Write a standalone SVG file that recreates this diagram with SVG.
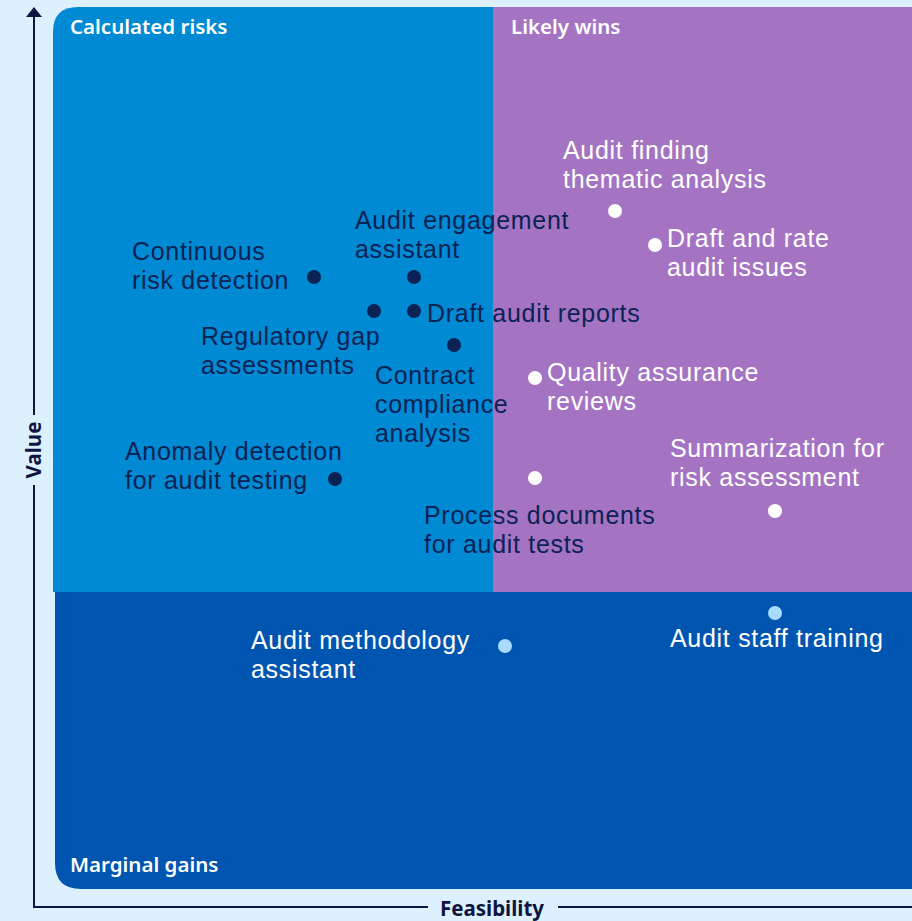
<svg xmlns="http://www.w3.org/2000/svg" width="912" height="921" viewBox="0 0 912 921">
<defs>
<style>
.bg{fill:#DCF0FD}
.ax{stroke:#0F1540;stroke-width:2;fill:none}
.axl{font-family:"Noto Sans","Liberation Sans",sans-serif;font-weight:700;font-size:20.5px;fill:#0F1540}
.qt{font-family:"Noto Sans","Liberation Sans",sans-serif;font-weight:600;font-size:20.5px;fill:#FFFFFF}
.lb{font-family:"Liberation Sans",Arial,sans-serif;font-size:25px;letter-spacing:0.7px}
.dk{fill:#0B2254}
.wt{fill:#FFFFFF}
.lt{fill:#A8DBFF}
</style>
<marker id="arr" viewBox="0 0 10 16" refX="1" refY="8" markerWidth="10" markerHeight="16" markerUnits="userSpaceOnUse" orient="auto">
<path d="M0,0 L10,8 L0,16 Z" fill="#0F1540"/>
</marker>
</defs>
<rect class="bg" x="0" y="0" width="912" height="921"/>
<g id="quadrants">
<g id="q-calculated-risks">
<path d="M53,592 V32 Q53,7 78,7 H493 V592 Z" fill="#008AD3"/>
<text class="qt" x="70" y="34">Calculated risks</text>
</g>
<g id="q-likely-wins">
<rect x="493" y="7" width="419" height="585" fill="#A474C3"/>
<text class="qt" x="511" y="34">Likely wins</text>
</g>
<g id="q-marginal-gains">
<path d="M55,592 H912 V889 H81 Q55,889 55,863 Z" fill="#0055B0"/>
<text class="qt" x="70" y="872">Marginal gains</text>
</g>
</g>
<g id="axes">
<path class="ax" d="M34,415 V16" marker-end="url(#arr)"/>
<path class="ax" d="M34,485 V907 H428"/>
<path class="ax" d="M558,907 H912"/>
<text class="axl" x="0" y="0" text-anchor="middle" transform="translate(41,450) rotate(-90)">Value</text>
<text class="axl" x="492" y="916" text-anchor="middle">Feasibility</text>
</g>
<g id="connectors"></g>
<g id="n-audit-finding">
<circle class="wt" cx="615" cy="211" r="7"/>
<text class="lb wt" x="563" y="159">Audit finding</text>
<text class="lb wt" x="563" y="188">thematic analysis</text>
</g>
<g id="n-draft-rate">
<circle class="wt" cx="655" cy="245" r="7"/>
<text class="lb wt" x="667" y="247">Draft and rate</text>
<text class="lb wt" x="667" y="276">audit issues</text>
</g>
<g id="n-engagement">
<circle class="dk" cx="414" cy="277" r="7"/>
<text class="lb dk" x="355" y="229">Audit engagement</text>
<text class="lb dk" x="355" y="258">assistant</text>
</g>
<g id="n-continuous">
<circle class="dk" cx="314" cy="277" r="7"/>
<text class="lb dk" x="132" y="260">Continuous</text>
<text class="lb dk" x="132" y="289">risk detection</text>
</g>
<g id="n-regulatory">
<circle class="dk" cx="374" cy="311" r="7"/>
<text class="lb dk" x="201" y="345">Regulatory gap</text>
<text class="lb dk" x="201" y="374">assessments</text>
</g>
<g id="n-draft-reports">
<circle class="dk" cx="414" cy="311" r="7"/>
<text class="lb dk" x="427" y="322">Draft audit reports</text>
</g>
<g id="n-contract">
<circle class="dk" cx="454" cy="345" r="7"/>
<text class="lb dk" x="375" y="384">Contract</text>
<text class="lb dk" x="375" y="413">compliance</text>
<text class="lb dk" x="375" y="442">analysis</text>
</g>
<g id="n-quality">
<circle class="wt" cx="535" cy="378" r="7"/>
<text class="lb wt" x="547" y="381">Quality assurance</text>
<text class="lb wt" x="547" y="410">reviews</text>
</g>
<g id="n-summarization">
<circle class="wt" cx="775" cy="511" r="7"/>
<text class="lb wt" x="670" y="457">Summarization for</text>
<text class="lb wt" x="670" y="486">risk assessment</text>
</g>
<g id="n-anomaly">
<circle class="dk" cx="335" cy="479" r="7"/>
<text class="lb dk" x="125" y="460">Anomaly detection</text>
<text class="lb dk" x="125" y="489">for audit testing</text>
</g>
<g id="n-process">
<circle class="wt" cx="535" cy="478" r="7"/>
<text class="lb dk" x="424" y="524">Process documents</text>
<text class="lb dk" x="424" y="553">for audit tests</text>
</g>
<g id="n-methodology">
<circle class="lt" cx="505" cy="646" r="7"/>
<text class="lb wt" x="251" y="649">Audit methodology</text>
<text class="lb wt" x="251" y="678">assistant</text>
</g>
<g id="n-staff">
<circle class="lt" cx="775" cy="613" r="7"/>
<text class="lb wt" x="670" y="647">Audit staff training</text>
</g>
</svg>
